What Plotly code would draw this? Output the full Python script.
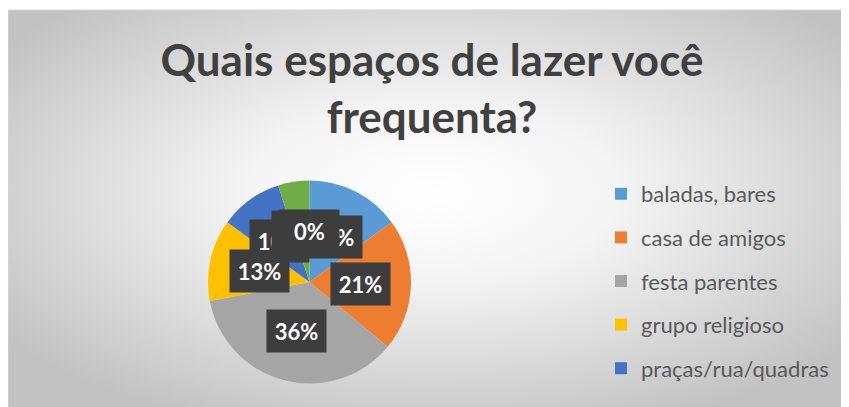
import base64, math
import plotly.graph_objects as go

# ---- data ----
labels = ["baladas, bares", "casa de amigos", "festa parentes", "grupo religioso",
          "praças/rua/quadras", "outros", "nenhum"]
values = [15, 21, 36, 13, 10, 5, 0]
colors = ["#5B9BD5", "#ED7D31", "#A5A5A5", "#FFC000", "#4472C4", "#70AD47", "#255E91"]
legend_shown = labels[:5]
title_text = "Quais espaços de lazer você<br>frequenta?"

W, H = 849, 407
OFF = 8  # page body margin offset

# pie placement (pixels, figure coords)
cx_px, cy_px, r_px = 309.5 - OFF, 282.0 - OFF, 101.5
dom_x = [(cx_px - r_px) / W, (cx_px + r_px) / W]
dom_y = [1 - (cy_px + r_px) / H, 1 - (cy_px - r_px) / H]

fig = go.Figure()

fig.add_trace(go.Pie(
    labels=labels, values=values, sort=False, direction="clockwise", rotation=0,
    marker=dict(colors=colors, line=dict(width=0)),
    textinfo="none", hoverinfo="label+percent", showlegend=False,
    domain=dict(x=dom_x, y=dom_y),
))

# legend entries (first five categories, as visible in the original)
for lab in legend_shown:
    i = labels.index(lab)
    fig.add_trace(go.Scatter(
        x=[None], y=[None], mode="markers", name=lab, legendgroup=lab,
        marker=dict(symbol="square", size=12, color=colors[i]),
    ))

# data-label boxes at slice mid angles
total = sum(values)
cum = 0
annotations = []
for v in values:
    mid = (cum + v / 2) / total * 2 * math.pi
    cum += v
    px = cx_px + 0.5 * r_px * math.sin(mid)
    py = cy_px - 0.5 * r_px * math.cos(mid)
    annotations.append(dict(
        x=px / W, y=1 - py / H, xref="paper", yref="paper", showarrow=False,
        text=f"<b>{round(v / total * 100)}%</b>",
        font=dict(family="Lato", size=22, color="white"),
        bgcolor="#3D3D3D", borderpad=7, width=45, height=28,
        xanchor="center", yanchor="middle",
    ))

# radial gradient background (svg)
bw, bh = W, H - 2
svg = (f'<svg xmlns="http://www.w3.org/2000/svg" width="{bw}" height="{bh}">'
       '<defs><radialGradient id="g" cx="50%" cy="45%" r="62%">'
       '<stop offset="0%" stop-color="#ffffff"/><stop offset="35%" stop-color="#f4f4f4"/>'
       '<stop offset="100%" stop-color="#c2c2c2"/></radialGradient></defs>'
       f'<rect width="{bw}" height="{bh}" fill="url(#g)"/></svg>')
src = "data:image/svg+xml;base64," + base64.b64encode(svg.encode()).decode()

fig.update_layout(
    width=W, height=H, margin=dict(l=0, r=0, t=0, b=0),
    paper_bgcolor="white", plot_bgcolor="rgba(0,0,0,0)",
    images=[dict(source=src, xref="paper", yref="paper", x=0, y=1 - 2 / H,
                 sizex=1, sizey=bh / H, xanchor="left", yanchor="top",
                 sizing="stretch", layer="below")],
    shapes=[dict(type="rect", xref="paper", yref="paper", x0=0, x1=1, y0=0, y1=1 - 2 / H,
                 line=dict(color="#d4d4d4", width=1), layer="below")],
    title=dict(text=title_text, x=424 / W, xanchor="center", y=1 - 68 / H, yanchor="top",
               xref="paper", yref="container",
               font=dict(family="Lato", size=44, color="#404040", weight="bold")),
    xaxis=dict(visible=False), yaxis=dict(visible=False),
    legend=dict(x=593 / W, y=1 - 165 / H, xanchor="left", yanchor="top",
                font=dict(family="Lato", size=22, color="#595959"),
                tracegroupgap=12, bgcolor="rgba(0,0,0,0)"),
    annotations=annotations,
)

fig.write_html("out.html")
